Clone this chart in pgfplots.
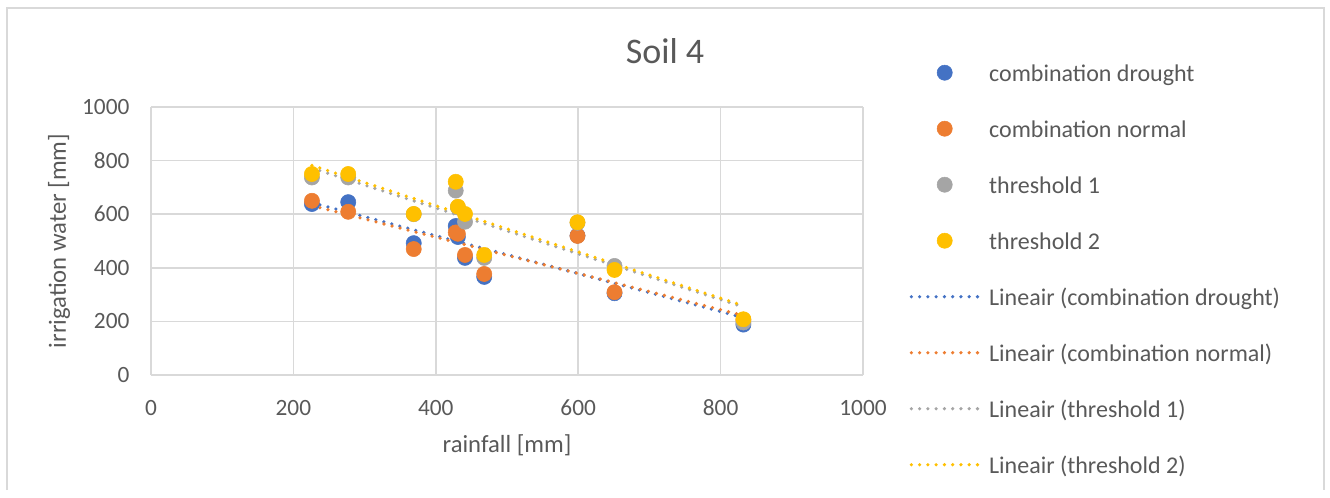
\documentclass[border=0pt]{standalone}
\usepackage{pgfplots}
\pgfplotsset{compat=1.18}
\usepackage{fontspec}
\setmainfont{Carlito}
\definecolor{cblue}{HTML}{4472C4}
\definecolor{corange}{HTML}{ED7D31}
\definecolor{cgray}{HTML}{A5A5A5}
\definecolor{cyellow}{HTML}{FFC000}
\definecolor{ctext}{HTML}{595959}
\definecolor{cgrid}{HTML}{D9D9D9}
\begin{document}
\begin{tikzpicture}
\path (0pt,0pt) rectangle (997.5pt,367.5pt);
\draw[cgrid,line width=1.2pt] (5.25pt,0pt) -- (5.25pt,361.5pt) -- (993pt,361.5pt) -- (993pt,0pt);
\begin{axis}[
  at={(113.25pt,86.25pt)}, anchor=south west,
  scale only axis, width=534pt, height=201pt,
  xmin=0, xmax=1000, ymin=0, ymax=1000,
  xtick={0,200,...,1000}, ytick={0,200,...,1000},
  grid=major, major grid style={cgrid,line width=1.1pt},
  axis line style={draw=none}, major tick length=0pt,
  /pgf/number format/assume math mode=true,
  /pgf/number format/1000 sep={},
  ticklabel style={font=\fontsize{17.5}{20}\selectfont, text=ctext},
  yticklabel style={anchor=east, inner sep=0pt, xshift=-16pt},
  xticklabel style={anchor=north, inner sep=0pt, yshift=-18.5pt},
  xlabel={rainfall [mm]}, ylabel={irrigation water [mm]},
  label style={font=\fontsize{18.5}{22}\selectfont, text=ctext},
  xlabel style={at={(axis description cs:0.5,-0.261)}, anchor=center},
  ylabel style={at={(axis description cs:-0.129,0.5)}, anchor=center, rotate=0},
  title={Soil 4},
  title style={font=\fontsize{27}{32}\selectfont, text=ctext, at={(axis description cs:0.722,1.178)}, anchor=center},
  legend cell align=left,
  legend style={draw=none, fill=none, inner sep=0pt, at={(axis description cs:1.065,1.216)}, anchor=north west,
    font=\fontsize{18}{22}\selectfont, text=ctext, column sep=6pt,
    nodes={inner sep=0pt, text height=24pt, text depth=18pt}},
  clip=false,
]
\addplot[only marks, mark=*, mark size=5.7pt, cblue, mark options={draw=cblue, fill=cblue},
  legend image code/.code={\fill[cblue] (26pt,0.35em) circle (5.7pt);}]
  coordinates {(226,638)(277,645)(369,492)(428,556)(431,515)(441,437)(468,366)(599,520)(651,305)(832,188)};
\addlegendentry{combination drought}
\addplot[only marks, mark=*, mark size=5.7pt, corange, mark options={draw=corange, fill=corange},
  legend image code/.code={\fill[corange] (26pt,0.35em) circle (5.7pt);}]
  coordinates {(226,650)(277,609)(369,470)(428,532)(431,527)(441,448)(468,377)(599,519)(651,309)(832,205)};
\addlegendentry{combination normal}
\addplot[only marks, mark=*, mark size=5.7pt, cgray, mark options={draw=cgray, fill=cgray},
  legend image code/.code={\fill[cgray] (26pt,0.35em) circle (5.7pt);}]
  coordinates {(226,737)(277,737)(369,600)(428,688)(431,625)(441,572)(468,437)(599,568)(651,407)(832,196)};
\addlegendentry{threshold 1}
\addplot[only marks, mark=*, mark size=5.7pt, cyellow, mark options={draw=cyellow, fill=cyellow},
  legend image code/.code={\fill[cyellow] (26pt,0.35em) circle (5.7pt);}]
  coordinates {(226,750)(277,750)(369,601)(428,721)(431,628)(441,601)(468,448)(599,570)(651,392)(832,208)};
\addlegendentry{threshold 2}
\pgfplotsset{trend/.style={no marks, line width=2.7pt, line cap=round, dash pattern=on 0pt off 6.2pt, #1,
  legend image code/.code={\draw[#1, line width=2.7pt, line cap=round, dash pattern=on 0pt off 6.2pt] (1pt,0.35em) -- (52pt,0.35em);}}}
\addplot[trend=cblue] coordinates {(226,643)(832,214)};
\addlegendentry{Lineair (combination drought)}
\addplot[trend=corange] coordinates {(226,632)(832,222)};
\addlegendentry{Lineair (combination normal)}
\addplot[trend=cgray] coordinates {(226,772)(832,254)};
\addlegendentry{Lineair (threshold 1)}
\addplot[trend=cyellow] coordinates {(226,782)(832,259)};
\addlegendentry{Lineair (threshold 2)}
\end{axis}
\end{tikzpicture}
\end{document}
